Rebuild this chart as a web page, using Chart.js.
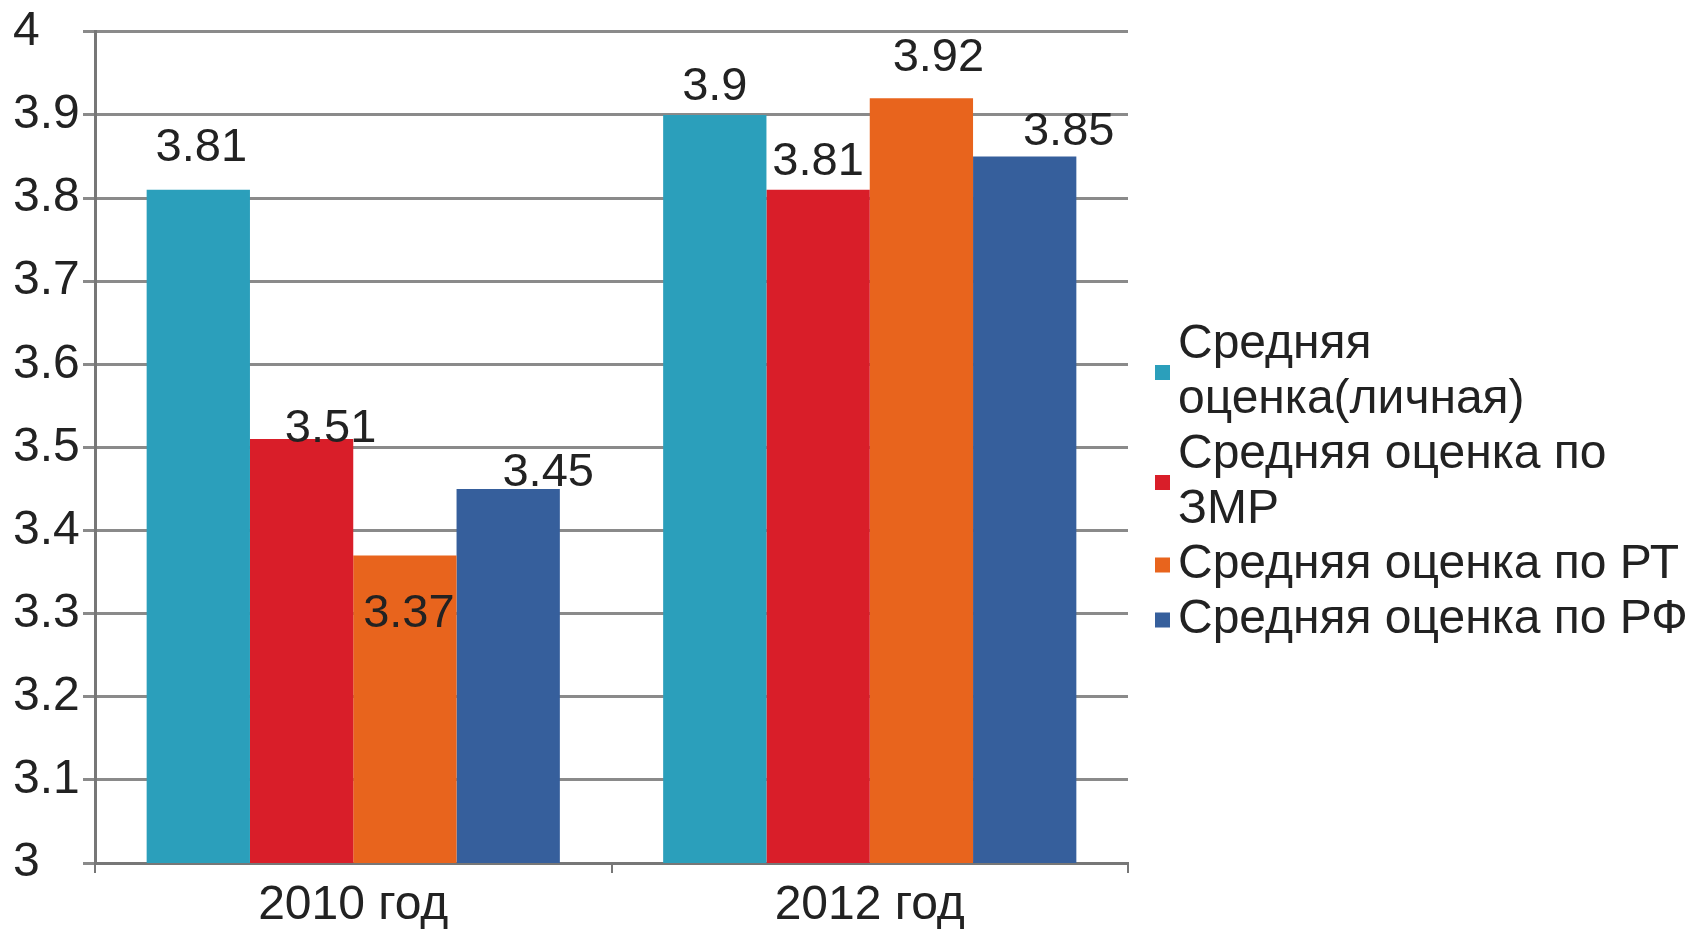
<!DOCTYPE html>
<html>
<head>
<meta charset="utf-8">
<script src="https://cdn.jsdelivr.net/npm/chart.js@4"></script>
<style>
  html, body { margin: 0; padding: 0; background: #fff; }
  #wrap { width: 1692px; height: 929px; }
</style>
</head>
<body>
<div id="wrap"><canvas id="chart"></canvas></div>
<script>
// данные диаграммы
const categories = ["2010 год", "2012 год"];
const seriesNames = [
  "Средняя оценка(личная)",
  "Средняя оценка по ЗМР",
  "Средняя оценка по РТ",
  "Средняя оценка по РФ",
];
const personal = [3.81, 3.9];
const zmr = [3.51, 3.81];
const rt = [3.37, 3.92];
const rf = [3.45, 3.85];
const yTickLabels = ["3", "3.1", "3.2", "3.3", "3.4", "3.5", "3.6", "3.7", "3.8", "3.9", "4"];

const colors = ["#2B9FBB", "#D91E29", "#E8641D", "#365F9C"];
const textColor = "#222222";
const fontFamily = "'Liberation Sans', Arial, sans-serif";

// сдвиги подписей значений (как в исходной картинке)
const labelShift = [
  [[3, -42], [0, -28]],
  [[29, -10], [0, -28]],
  [[4, 59], [17, -40]],
  [[40, -16], [44, -24]],
];

// подписи значений над столбцами
const valueLabels = {
  id: "valueLabels",
  afterDatasetsDraw(chart) {
    const ctx = chart.ctx;
    ctx.save();
    ctx.font = "47px " + fontFamily;
    ctx.fillStyle = textColor;
    ctx.textAlign = "center";
    ctx.textBaseline = "middle";
    chart.data.datasets.forEach((ds, i) => {
      chart.getDatasetMeta(i).data.forEach((bar, j) => {
        const s = labelShift[i][j];
        ctx.fillText(String(ds.data[j]), bar.x + s[0], bar.y + s[1]);
      });
    });
    ctx.restore();
  },
};

// легенда справа с переносом строк
const sideLegend = {
  id: "sideLegend",
  afterDraw(chart) {
    const ctx = chart.ctx;
    const x = 1178;
    const lineH = 55;
    const maxW = 1692 - x;
    ctx.save();
    ctx.font = "48px " + fontFamily;
    ctx.textBaseline = "middle";
    ctx.textAlign = "left";
    // перенос по словам
    const blocks = chart.data.datasets.map((ds) => {
      const words = ds.label.split(" ");
      const lines = [];
      let cur = "";
      words.forEach((w) => {
        const t = cur ? cur + " " + w : w;
        if (ctx.measureText(t).width > maxW && cur) {
          lines.push(cur);
          cur = w;
        } else {
          cur = t;
        }
      });
      lines.push(cur);
      return lines;
    });
    const total = blocks.reduce((a, b) => a + b.length, 0);
    let y = 482 - (total * lineH) / 2 + lineH / 2;
    blocks.forEach((lines, i) => {
      const mid = y + ((lines.length - 1) * lineH) / 2;
      ctx.fillStyle = colors[i];
      ctx.fillRect(1155, mid - 7, 15, 15);
      ctx.fillStyle = textColor;
      lines.forEach((l) => {
        ctx.fillText(l, x, y);
        y += lineH;
      });
    });
    ctx.restore();
  },
};

new Chart(document.getElementById("chart"), {
  type: "bar",
  data: {
    labels: categories,
    datasets: [
      { label: seriesNames[0], data: personal, backgroundColor: colors[0] },
      { label: seriesNames[1], data: zmr, backgroundColor: colors[1] },
      { label: seriesNames[2], data: rt, backgroundColor: colors[2] },
      { label: seriesNames[3], data: rf, backgroundColor: colors[3] },
    ],
  },
  options: {
    responsive: true,
    maintainAspectRatio: false,
    animation: false,
    layout: { padding: { top: 30, right: 564, left: 13, bottom: 0 } },
    datasets: { bar: { categoryPercentage: 0.8, barPercentage: 1.0 } },
    plugins: {
      legend: { display: false },
      tooltip: { enabled: false },
    },
    scales: {
      x: {
        offset: true,
        grid: {
          offset: true,
          drawOnChartArea: false,
          drawTicks: true,
          tickLength: 10,
          color: "#777",
          lineWidth: 2,
        },
        border: { color: "#777", width: 3 },
        ticks: {
          color: textColor,
          font: { family: fontFamily, size: 48 },
          padding: 4,
        },
        afterFit(scale) { scale.height = 66; },
      },
      y: {
        min: 3,
        max: 4,
        ticks: {
          stepSize: 0.1,
          color: textColor,
          font: { family: fontFamily, size: 48 },
          padding: 3,
          crossAlign: "far",
          callback: (v, i) => yTickLabels[i],
        },
        grid: {
          color: "#8a8a8a",
          lineWidth: 3,
          tickLength: 12,
        },
        border: { color: "#777", width: 3 },
        afterFit(scale) { scale.width = 82; },
      },
    },
  },
  plugins: [valueLabels, sideLegend],
});
</script>
</body>
</html>
